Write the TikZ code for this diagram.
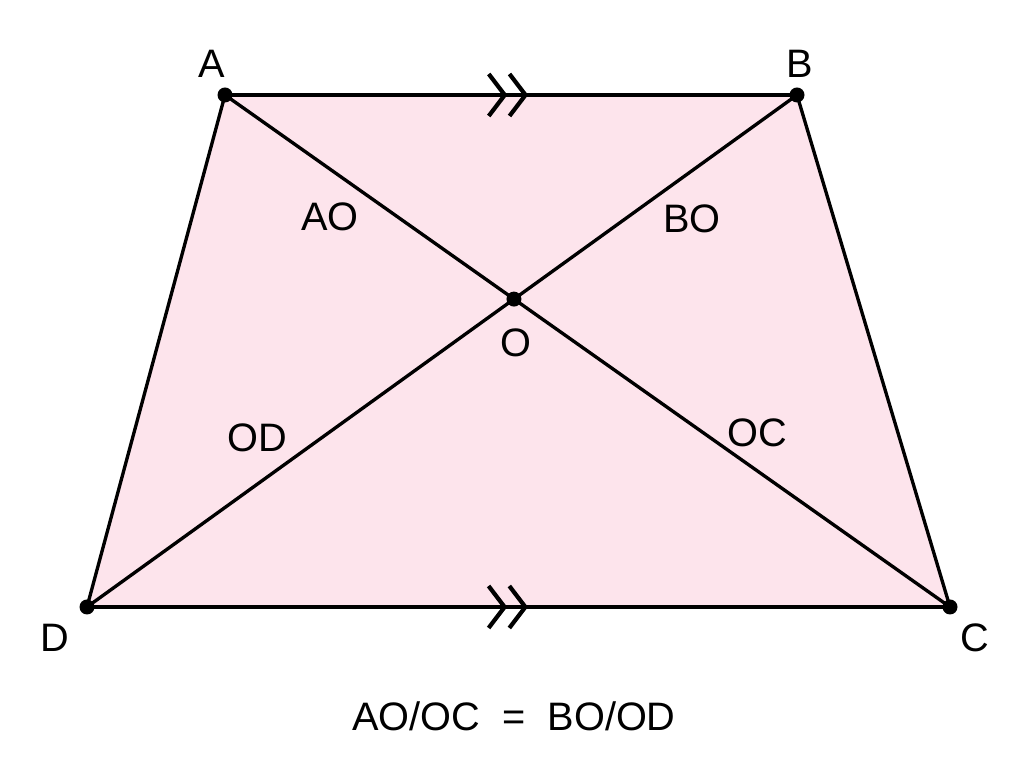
\documentclass[tikz,border=0pt]{standalone}
\usepackage{fontspec}
\setmainfont{Liberation Sans}
\usetikzlibrary{arrows.meta,decorations.markings}
\definecolor{trapfill}{RGB}{253,228,236}
\tikzset{
  pt/.style={circle,fill=black,inner sep=0pt,minimum size=0.15cm},
  lbl/.style={font=\fontsize{11.3}{13}\selectfont},
  side/.style={line width=0.95pt},
  par/.style={side,postaction={decorate},decoration={markings,
      mark=at position #1 with {\arrow[line width=1.2pt]{Straight Barb[length=1.6mm,width=4.2mm] Straight Barb[length=1.6mm,width=4.2mm]}}}}
}
\begin{document}
\begin{tikzpicture}
      \useasboundingbox (0,0) rectangle (10.24,7.68);
      \coordinate (A) at (2.25,6.73);
      \coordinate (B) at (7.97,6.73);
      \coordinate (C) at (9.50,1.61);
      \coordinate (D) at (0.87,1.61);
      \fill[trapfill] (A)--(B)--(C)--(D)--cycle;
      \draw[side] (A)--(C);
      \draw[side] (B)--(D);
      \draw[side] (B)--(C);
      \draw[side] (D)--(A);
      \draw[par=0.53] (A)--(B);
      \draw[par=0.511] (D)--(C);
      \node[pt] (a) at (A) {};
      \node[pt] (b) at (B) {};
      \node[pt] (c) at (C) {};
      \node[pt] (d) at (D) {};
      \node[pt] (o) at (intersection of A--C and B--D) {};
      \node[lbl] (la) at (2.12,7.04) {A};
      \node[lbl] (lb) at (8.00,7.04) {B};
      \node[lbl] (lc) at (9.75,1.30) {C};
      \node[lbl] (ld) at (0.55,1.30) {D};
      \node[lbl] (lo) at (5.16,4.25) {O};
      \node[lbl] (lao) at (3.30,5.51) {AO};
      \node[lbl] (lbo) at (6.92,5.49) {BO};
      \node[lbl] (lod) at (2.57,3.30) {OD};
      \node[lbl] (loc) at (7.57,3.35) {OC};
      \node[lbl] (eq) at (5.14,0.52) {AO/OC \ = \ BO/OD};
\end{tikzpicture}
\end{document}
